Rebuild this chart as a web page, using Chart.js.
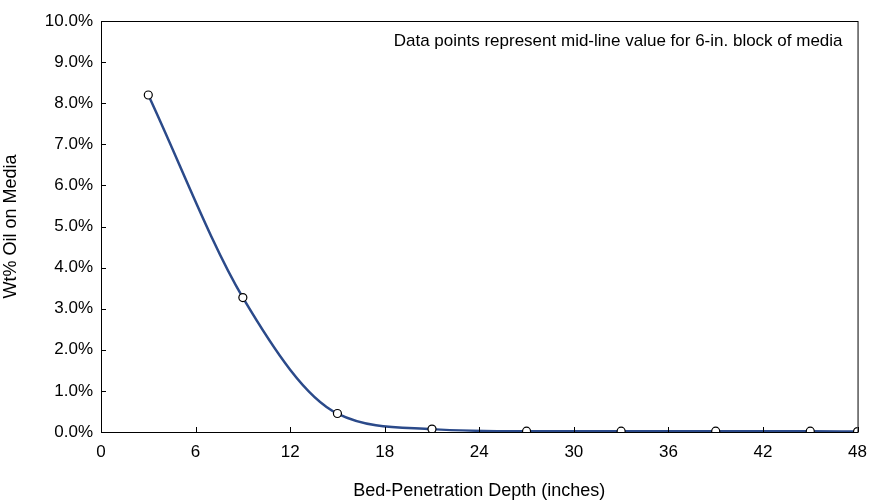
<!DOCTYPE html>
<html>
<head>
<script src="https://cdn.jsdelivr.net/npm/chart.js@4"></script>
<style>
  html, body { margin: 0; padding: 0; background: #fff; }
  #wrap { width: 877px; height: 502px; }
</style>
</head>
<body>
<div id="wrap"><canvas id="chart" width="877" height="502"></canvas></div>
<script>
(function () {
  'use strict';

  var depths = [3, 9, 15, 21, 27, 33, 39, 45, 48];
  var oilPct = [8.2, 3.27, 0.45, 0.07, 0.02, 0.02, 0.02, 0.02, 0.01];
  var note = 'Data points represent mid-line value for 6-in. block of media';

  var points = depths.map(function (d, i) { return { x: d, y: oilPct[i] }; });

  // frame box, inward tick marks and the note
  var framePlugin = {
    id: 'frame',
    afterDraw: function (chart) {
      var c = chart.ctx, a = chart.chartArea;
      var xs = chart.scales.x, ys = chart.scales.y;
      c.save();
      c.strokeStyle = '#000';
      c.lineWidth = 1;
      c.strokeRect(a.left + 0.5, a.top + 0.5, a.right - a.left, a.bottom - a.top);
      c.beginPath();
      xs.ticks.forEach(function (t) {
        var px = Math.round(xs.getPixelForValue(t.value)) + 0.5;
        c.moveTo(px, a.bottom);
        c.lineTo(px, a.bottom - 5);
      });
      ys.ticks.forEach(function (t) {
        var py = Math.round(ys.getPixelForValue(t.value)) + 0.5;
        c.moveTo(a.left, py);
        c.lineTo(a.left + 5, py);
      });
      c.stroke();
      c.font = '17px "Liberation Sans", Arial, sans-serif';
      c.fillStyle = '#000';
      c.textAlign = 'right';
      c.textBaseline = 'middle';
      c.fillText(note, a.right - 15, a.top + 20);
      c.restore();
    }
  };

  var tickFont = { family: '"Liberation Sans", Arial, sans-serif', size: 17 };
  var titleFont = { family: '"Liberation Sans", Arial, sans-serif', size: 18 };

  new Chart(document.getElementById('chart').getContext('2d'), {
    type: 'line',
    data: {
      datasets: [{
        data: points,
        borderColor: '#2b4a8a',
        borderWidth: 2.5,
        cubicInterpolationMode: 'monotone',
        fill: false,
        pointRadius: 4,
        pointBackgroundColor: '#fff',
        pointBorderColor: '#000',
        pointBorderWidth: 1.2
      }]
    },
    options: {
      responsive: false,
      animation: false,
      layout: { padding: { left: 0, right: 7, top: 21, bottom: 0 } },
      plugins: { legend: { display: false }, tooltip: { enabled: false } },
      scales: {
        x: {
          type: 'linear', min: 0, max: 48,
          afterFit: function (s) { s.height = 70; },
          ticks: { stepSize: 6, color: '#000', font: tickFont, padding: 10 },
          grid: { display: false, drawTicks: false },
          border: { display: false },
          title: { display: true, text: 'Bed-Penetration Depth (inches)', color: '#000', font: titleFont, padding: { top: 18, bottom: 0 } }
        },
        y: {
          min: 0, max: 10,
          afterFit: function (s) { s.width = 101; },
          ticks: { stepSize: 1, color: '#000', font: tickFont, padding: 8, callback: function (v) { return v.toFixed(1) + '%'; } },
          grid: { display: false, drawTicks: false },
          border: { display: false },
          title: { display: true, text: 'Wt% Oil on Media', color: '#000', font: titleFont, padding: { top: 0, bottom: 4 } }
        }
      }
    },
    plugins: [framePlugin]
  });
}());
</script>
</body>
</html>
